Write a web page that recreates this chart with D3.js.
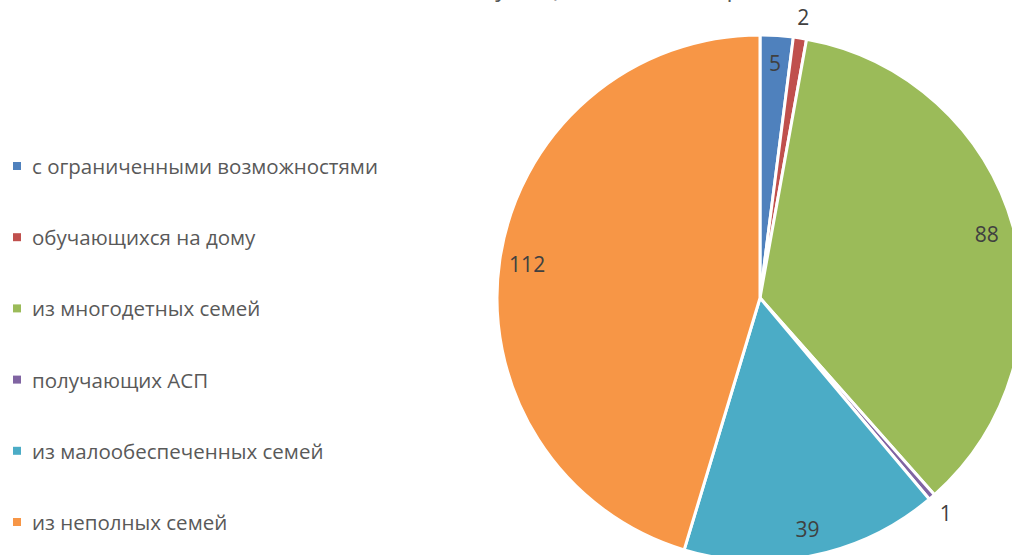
<!DOCTYPE html>
<html><head><meta charset="utf-8">
<script src="https://cdn.jsdelivr.net/npm/d3@7"></script>
<style>body{margin:0;background:#fff;}svg{display:block;}</style>
</head><body>
<svg id="c" width="1012" height="555"></svg>
<script>
const categories = ["с ограниченными возможностями","обучающихся на дому","из многодетных семей","получающих АСП","из малообеспеченных семей","из неполных семей"];
const values = [5, 2, 88, 1, 39, 112];
const colors = ["#4F81BD","#C0504D","#9BBB59","#8064A2","#4BACC6","#F79646"];
const title = "Контингент учащихся по категориям";

const svg = d3.select("#c");
const cx = 760, cy = 298, R = 263;
const font = "'Open Sans', sans-serif";

svg.append("text").attr("x", 570).attr("y", -4).attr("text-anchor","middle")
  .attr("font-family", font).attr("font-size", 24).attr("fill", "#595959").text(title);

const pie = d3.pie().sort(null).value(d => d)(values);
const arc = d3.arc().innerRadius(0).outerRadius(R);
const total = d3.sum(values);
const g = svg.append("g").attr("transform", `translate(${cx},${cy})`);
g.selectAll("path").data(pie).join("path")
  .attr("d", arc).attr("fill", (d,i) => colors[i])
  .attr("stroke", "#fff").attr("stroke-width", 3).attr("stroke-linejoin","round");

const inArc = d3.arc().innerRadius(R*0.895).outerRadius(R*0.895);
const outArc = d3.arc().innerRadius(R*1.08).outerRadius(R*1.08);
g.selectAll("text.lbl").data(pie).join("text").attr("class","lbl")
  .attr("transform", d => `translate(${(d.data/total < 0.015 ? outArc : inArc).centroid(d)})`)
  .attr("text-anchor","middle").attr("dominant-baseline","central")
  .attr("font-family", font).attr("font-size", 21).attr("fill", "#404040")
  .text(d => d.data);

const y = d3.scalePoint().domain(categories).range([166, 522]);
const items = svg.append("g").selectAll("g").data(categories).join("g")
  .attr("transform", d => `translate(13,${y(d)})`);
items.append("rect").attr("x", 0).attr("y", -4).attr("width", 8).attr("height", 8)
  .attr("fill", (d,i) => colors[i]);
items.append("text").attr("x", 19).attr("y", 0).attr("dominant-baseline","central")
  .attr("font-family", font).attr("font-size", 20.5).attr("fill", "#595959").text(d => d);
</script>
</body></html>
